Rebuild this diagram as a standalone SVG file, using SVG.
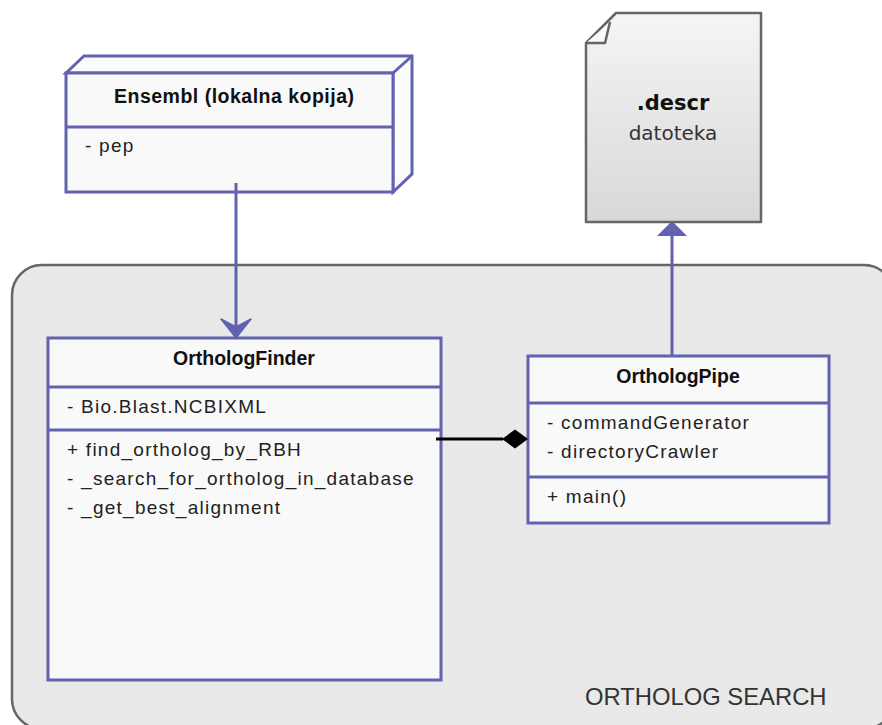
<svg xmlns="http://www.w3.org/2000/svg" width="882" height="725" viewBox="0 0 882 725">
  <defs>
    <linearGradient id="docFill" x1="0" y1="0" x2="0" y2="1">
      <stop offset="0" stop-color="#f5f5f5"/>
      <stop offset="1" stop-color="#d8d8d8"/>
    </linearGradient>
    <style>
      .cls { fill: #f9f9f9; stroke: #6262b0; stroke-width: 3; }
      .sep { stroke: #6262b0; stroke-width: 3; fill: none; }
      .title { font-family: "Liberation Sans", Arial, sans-serif; font-weight: bold; font-size: 19.5px; fill: #111; text-anchor: middle; }
      .item { font-family: "Liberation Sans", Arial, sans-serif; font-size: 19px; letter-spacing: 1.25px; fill: #222; }
      .link { stroke: #6262b0; stroke-width: 3; fill: none; }
    </style>
  </defs>

  <!-- package container -->
  <g id="ortholog-search">
    <rect x="12" y="265" width="882" height="464" rx="30" ry="30" fill="#e9e9e9" stroke="#666" stroke-width="2.5"/>
    <text x="585" y="705" font-family="'Liberation Sans', Arial, sans-serif" font-size="23.8px" fill="#333">ORTHOLOG SEARCH</text>
  </g>

  <!-- Ensembl local copy (3D node) -->
  <g id="ensembl">
    <path d="M66,73 L84,56 L412,56 L412,174 L393,192 L393,73 Z" fill="#fbfbfb" stroke="#6262b0" stroke-width="3" stroke-linejoin="miter"/>
    <rect class="cls" x="66" y="73" width="327" height="119"/>
    <line class="sep" x1="393" y1="73" x2="412" y2="56"/>
    <line class="sep" x1="66" y1="127" x2="393" y2="127"/>
    <text class="title" x="234" y="103" textLength="240">Ensembl (lokalna kopija)</text>
    <text class="item" x="85" y="152">- pep</text>
  </g>

  <!-- .descr file document -->
  <g id="descr">
    <path d="M616,13 L761,13 L761,222 L586,222 L586,43 Z" fill="url(#docFill)" stroke="#666" stroke-width="2.5" stroke-linejoin="round"/>
    <path d="M586,43 L605,43 L610,22" fill="#fafafa" stroke="#666" stroke-width="2.5" stroke-linejoin="round"/>
    <text x="673" y="110" font-family="'DejaVu Sans', sans-serif" font-weight="bold" font-size="21px" fill="#111" text-anchor="middle">.descr</text>
    <text x="673" y="140" font-family="'DejaVu Sans', sans-serif" font-size="20px" fill="#333" text-anchor="middle">datoteka</text>
  </g>

  <!-- OrthologFinder class -->
  <g id="ortholog-finder">
    <rect class="cls" x="48" y="338" width="393" height="342"/>
    <line class="sep" x1="48" y1="387" x2="441" y2="387"/>
    <line class="sep" x1="48" y1="430" x2="441" y2="430"/>
    <text class="title" x="244" y="365">OrthologFinder</text>
    <text class="item" x="67" y="413">- Bio.Blast.NCBIXML</text>
    <text class="item" x="67" y="456">+ find_ortholog_by_RBH</text>
    <text class="item" x="67" y="485">- _search_for_ortholog_in_database</text>
    <text class="item" x="67" y="514">- _get_best_alignment</text>
  </g>

  <!-- OrthologPipe class -->
  <g id="ortholog-pipe">
    <rect class="cls" x="528" y="356" width="301" height="167"/>
    <line class="sep" x1="528" y1="403" x2="829" y2="403"/>
    <line class="sep" x1="528" y1="477" x2="829" y2="477"/>
    <text class="title" x="678" y="383">OrthologPipe</text>
    <text class="item" x="547" y="429">- commandGenerator</text>
    <text class="item" x="547" y="458">- directoryCrawler</text>
    <text class="item" x="547" y="503">+ main()</text>
  </g>

  <!-- connectors -->
  <g id="connectors">
    <!-- Ensembl to OrthologFinder -->
    <line class="link" x1="236" y1="183" x2="236" y2="332"/>
    <path d="M236,338 L221,319 L236,327 L251,319 Z" fill="#6262b0" stroke="#6262b0" stroke-width="1.5" stroke-linejoin="round"/>
    <!-- OrthologPipe to .descr -->
    <line class="link" x1="672" y1="356" x2="672" y2="234"/>
    <path d="M672,221 L687,236 L657,236 Z" fill="#6262b0"/>
    <!-- composition OrthologFinder to OrthologPipe -->
    <line x1="436" y1="439" x2="503" y2="439" stroke="#000" stroke-width="3"/>
    <path d="M528,439 L515,429.5 L502,439 L515,448.5 Z" fill="#000"/>
  </g>
</svg>
